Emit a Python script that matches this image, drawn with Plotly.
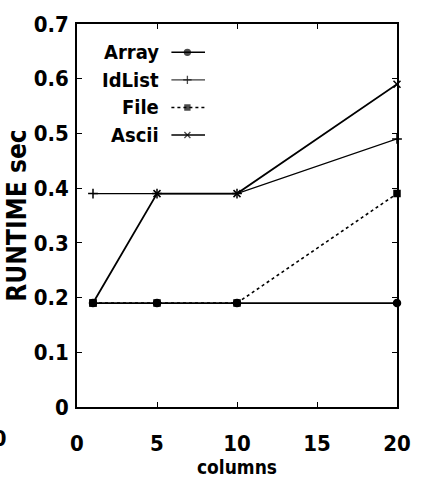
import plotly.graph_objects as go

# Runtime measurements per storage format
columns = [1, 5, 10, 20]
array_sec = [0.19, 0.19, 0.19, 0.19]
idlist_sec = [0.39, 0.39, 0.39, 0.49]
file_sec = [0.19, 0.19, 0.19, 0.39]
ascii_sec = [0.19, 0.39, 0.39, 0.59]

series_names = ["Array", "IdList", "File", "Ascii"]
series_values = [array_sec, idlist_sec, file_sec, ascii_sec]
x_ticks = [0, 5, 10, 15, 20]
y_ticks = [0, 0.1, 0.2, 0.3, 0.4, 0.5, 0.6, 0.7]

FONT = "DejaVu Sans Condensed, Liberation Sans Narrow, Liberation Sans, Arial"
styles = {
    "Array": dict(dash="solid", symbol="circle", size=7, width=1.8),
    "IdList": dict(dash="solid", symbol="cross-thin", size=7, width=1.2),
    "File": dict(dash="dot", symbol="square", size=6, width=1.6),
    "Ascii": dict(dash="solid", symbol="x-thin", size=7, width=1.8),
}

fig = go.Figure()

for name, vals in zip(series_names, series_values):
    st = styles[name]
    fig.add_trace(go.Scatter(
        x=columns, y=vals, name=name, mode="lines+markers",
        line=dict(color="black", width=st["width"], dash=st["dash"]),
        marker=dict(symbol=st["symbol"], size=st["size"], color="black",
                    line=dict(color="black", width=1.5)),
        showlegend=False, cliponaxis=False,
    ))

# Legend: label on the left, line sample on the right, on an overlay axis
legend_top, legend_step = 0.926, 0.072
for i, name in enumerate(series_names):
    st = styles[name]
    ly = legend_top - i * legend_step
    fig.add_trace(go.Scatter(
        x=[0.295, 0.345, 0.40], y=[ly, ly, ly], mode="lines+markers",
        xaxis="x2", yaxis="y2",
        line=dict(color="black", width=st["width"] * 0.8, dash=st["dash"]),
        marker=dict(symbol=st["symbol"], size=[0, st["size"] - 1, 0], color="black",
                    line=dict(color="black", width=1.3)),
        showlegend=False, hoverinfo="skip",
    ))
    fig.add_annotation(
        x=0.262, y=ly, xref="paper", yref="paper", text="<b>%s</b>" % name,
        showarrow=False, xanchor="right", yanchor="middle",
        font=dict(family=FONT, size=20, color="black"),
    )

# Neighbouring panel's tick label, cut off at the page edge
fig.add_annotation(
    x=-0.213, y=-0.082, xref="paper", yref="paper", text="<b>10</b>",
    showarrow=False, xanchor="right", yanchor="middle",
    font=dict(family=FONT, size=22, color="black"),
)

axis_common = dict(
    showline=True, linecolor="black", linewidth=1.5, mirror="ticks",
    ticks="inside", ticklen=5, tickwidth=1.3, tickcolor="black",
    showgrid=False, zeroline=False,
    tickfont=dict(family=FONT, size=22, color="black", weight="bold"),
)

fig.update_layout(
    width=423, height=486,
    margin=dict(l=77, r=14, t=20, b=73),
    paper_bgcolor="white", plot_bgcolor="white",
    xaxis=dict(range=[0, 20], tickvals=x_ticks, ticktext=[str(v) for v in x_ticks],
               ticklabelstandoff=16,
               title=dict(text="<b>columns</b>", standoff=5,
                          font=dict(family=FONT, size=19, color="black")),
               **axis_common),
    yaxis=dict(range=[0, 0.7], tickvals=y_ticks,
               ticktext=["0" if v == 0 else ("%g" % v) for v in y_ticks],
               ticklabelstandoff=2,
               title=dict(text="<b>RUNTIME sec</b>", standoff=0,
                          font=dict(family=FONT, size=26, color="black")),
               **axis_common),
    xaxis2=dict(overlaying="x", range=[0, 1], visible=False),
    yaxis2=dict(overlaying="y", range=[0, 1], visible=False),
    font=dict(family=FONT, color="black"),
)

fig.write_html("out.html")
